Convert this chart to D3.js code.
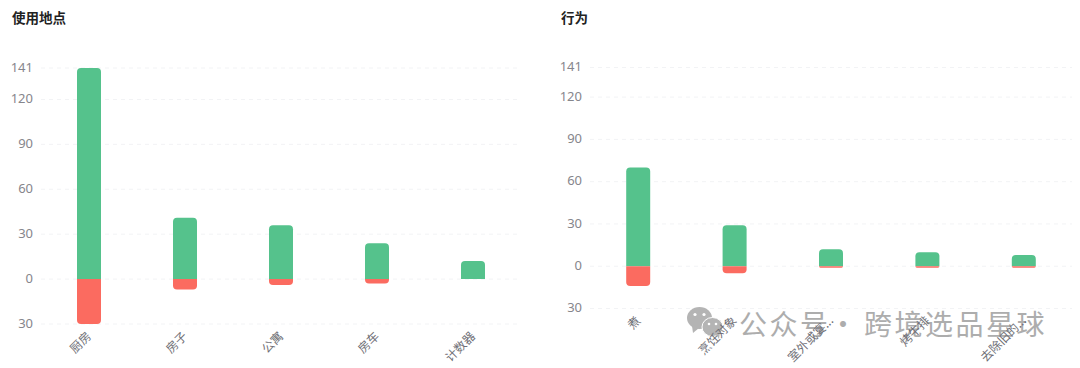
<!DOCTYPE html>
<html>
<head>
<meta charset="utf-8">
<script src="https://cdn.jsdelivr.net/npm/d3@7"></script>
<style>
  html, body { margin: 0; padding: 0; background: #fff; }
  text { font-family: "Noto Sans CJK SC", "Noto Sans", sans-serif; }
</style>
</head>
<body>
<svg id="chart" width="1080" height="368"></svg>
<script>
// left chart
const placeTitle = "使用地点";
const placeCategories = ["厨房", "房子", "公寓", "房车", "计数器"];
const placePositive = [141, 41, 36, 24, 12];
const placeNegative = [30, 7, 4, 3, 0];

// right chart
const actionTitle = "行为";
const actionCategories = ["煮", "烹饪对象", "室外或宴...", "烤牛排", "去除旧的..."];
const actionPositive = [70, 29, 12, 10, 8];
const actionNegative = [14, 5, 1, 1, 1];

const tickValues = [-30, 0, 30, 60, 90, 120, 141];

const green = "#55c28c";
const red = "#fb6b60";

let svg = d3.select("#chart");

function barPath(x, w, y0, y1, r) {
    // y0 is the flat end at zero, y1 the rounded end
    let dir = y1 < y0 ? 1 : -1;
    r = Math.min(r, Math.abs(y1 - y0));
    let p = d3.path();
    p.moveTo(x, y0);
    p.lineTo(x, y1 + dir * r);
    p.quadraticCurveTo(x, y1, x + r, y1);
    p.lineTo(x + w - r, y1);
    p.quadraticCurveTo(x + w, y1, x + w, y1 + dir * r);
    p.lineTo(x + w, y0);
    p.closePath();
    return p.toString();
}

function drawChart(o) {
    let g = svg.append("g");

    let x = d3.scaleBand().domain(o.categories).range(o.xRange);
    let y = d3.scaleLinear().domain([-30, 141]).range(o.yRange);

    g.append("text")
        .attr("x", o.titleX).attr("y", 23)
        .attr("font-size", 13.5).attr("font-weight", 700).attr("fill", "#222")
        .text(o.title);

    // grid
    g.selectAll(".grid").data(tickValues).enter().append("line")
        .attr("x1", o.xRange[0]).attr("x2", o.xRange[1])
        .attr("y1", d => y(d)).attr("y2", d => y(d))
        .attr("stroke", "#f2f3f5").attr("stroke-dasharray", "4 4");

    // y axis
    let yAxis = d3.axisLeft(y).tickValues(tickValues).tickSize(0).tickPadding(8)
        .tickFormat(d => Math.abs(d));
    let ya = g.append("g").attr("transform", "translate(" + o.xRange[0] + ",-1)").call(yAxis);
    ya.select(".domain").remove();
    ya.selectAll("text").attr("font-size", 13).attr("fill", "#86868c")
        .style("font-family", '"Noto Sans", sans-serif');

    // bars
    let bw = 24;
    o.categories.forEach((c, i) => {
        let bx = x(c) + x.bandwidth() / 2 - bw / 2;
        g.append("path").attr("d", barPath(bx, bw, y(0), y(o.positive[i]), 4)).attr("fill", green);
        if (o.negative[i] > 0)
            g.append("path").attr("d", barPath(bx, bw, y(0), y(-o.negative[i]), 4)).attr("fill", red);
    });
}

function drawLabels(o) {
    let x = d3.scaleBand().domain(o.categories).range(o.xRange);
    let y = d3.scaleLinear().domain([-30, 141]).range(o.yRange);
    svg.append("g").selectAll("text").data(o.categories).enter().append("text")
        .attr("transform", d => "translate(" + (x(d) + x.bandwidth() / 2 + 3) + "," + (y(-30) + 13) + ") rotate(-45)")
        .attr("text-anchor", "end")
        .attr("font-size", 12).attr("fill", "#6f6f76")
        .text(d => d);
}

const placeOpts = {
    title: placeTitle, titleX: 12,
    categories: placeCategories, positive: placePositive, negative: placeNegative,
    xRange: [41, 521], yRange: [324, 68]
};
const actionOpts = {
    title: actionTitle, titleX: 561,
    categories: actionCategories, positive: actionPositive, negative: actionNegative,
    xRange: [590, 1072], yRange: [308.5, 67.5]
};

drawChart(placeOpts);
drawChart(actionOpts);

// watermark, sits under the right chart's labels
let wm = svg.append("g").attr("fill", "#b4b4b4");
wm.append("ellipse").attr("cx", 699.5).attr("cy", 318).attr("rx", 12.5).attr("ry", 11);
wm.append("path").attr("d", "M692 326 L693 333 L699 328 Z");
wm.append("circle").attr("cx", 695).attr("cy", 314.5).attr("r", 1.6).attr("fill", "#fff");
wm.append("circle").attr("cx", 704).attr("cy", 314.5).attr("r", 1.6).attr("fill", "#fff");
wm.append("ellipse").attr("cx", 712.5).attr("cy", 327).attr("rx", 10.5).attr("ry", 9.5).attr("stroke", "#fff");
wm.append("path").attr("d", "M716 334 L719 339 L720 332 Z");
wm.append("circle").attr("cx", 709).attr("cy", 324).attr("r", 1.3).attr("fill", "#fff");
wm.append("circle").attr("cx", 716).attr("cy", 324).attr("r", 1.3).attr("fill", "#fff");
let wmText = wm.append("text").attr("y", 335).attr("font-size", 28).attr("fill", "#adadad").attr("letter-spacing", 2.5);
wmText.append("tspan").attr("x", 739).text("公众号");
wmText.append("tspan").attr("x", 829).text("·");
wmText.append("tspan").attr("x", 864).text("跨境选品星球");

drawLabels(placeOpts);
drawLabels(actionOpts);
</script>
</body>
</html>
